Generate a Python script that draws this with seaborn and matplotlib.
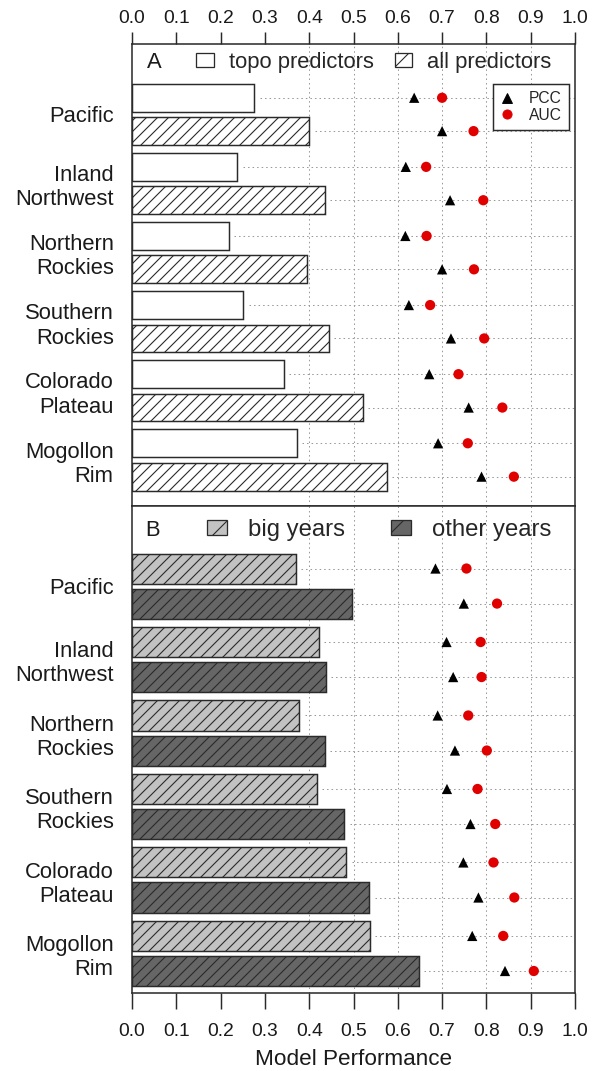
import numpy as np
import pandas as pd
import seaborn as sns
import matplotlib.pyplot as plt
from matplotlib.patches import Patch
from matplotlib.lines import Line2D

# ---- data ----
regions = ["Pacific", "Inland\nNorthwest", "Northern\nRockies",
           "Southern\nRockies", "Colorado\nPlateau", "Mogollon\nRim"]

# panel A
topo_bar = [0.276, 0.238, 0.218, 0.251, 0.343, 0.372]
topo_pcc = [0.637, 0.618, 0.617, 0.625, 0.671, 0.691]
topo_auc = [0.700, 0.664, 0.665, 0.673, 0.737, 0.758]
all_bar = [0.400, 0.436, 0.394, 0.445, 0.521, 0.576]
all_pcc = [0.700, 0.718, 0.700, 0.720, 0.760, 0.789]
all_auc = [0.771, 0.793, 0.772, 0.795, 0.836, 0.862]

# panel B
big_bar = [0.370, 0.421, 0.378, 0.417, 0.484, 0.537]
big_pcc = [0.685, 0.710, 0.690, 0.711, 0.748, 0.768]
big_auc = [0.755, 0.787, 0.759, 0.780, 0.816, 0.838]
other_bar = [0.496, 0.437, 0.436, 0.479, 0.536, 0.647]
other_pcc = [0.749, 0.725, 0.729, 0.764, 0.782, 0.842]
other_auc = [0.824, 0.789, 0.801, 0.820, 0.863, 0.907]

x_ticks = [0.0, 0.1, 0.2, 0.3, 0.4, 0.5, 0.6, 0.7, 0.8, 0.9, 1.0]
grid_x = [0.4, 0.5, 0.6, 0.7, 0.8, 0.9]

sns.set_theme(style="white")
plt.rcParams["font.family"] = ["Liberation Sans", "DejaVu Sans"]
plt.rcParams["hatch.linewidth"] = 1.2

DPI = 66
EDGE = "#2a2a2a"
RED = "#e00000"
DOTS = (0, (1.5, 3))


def long_table(groups, bars, pccs, aucs, width):
    rows = []
    for j, (g, b, p, a) in enumerate(zip(groups, bars, pccs, aucs)):
        off = (j - 0.5) * width / 2
        for i, r in enumerate(regions):
            rows.append(dict(region=r, group=g, bar=b[i], PCC=p[i], AUC=a[i], pos=i + off))
    return pd.DataFrame(rows)


def draw_panel(ax, df, groups, colors, hatches, width, gap, ylim):
    for x in grid_x:
        ax.axvline(x, color="#9a9a9a", lw=1.1, ls=DOTS, zorder=0)
    ax.hlines(df["pos"], df["bar"] + 0.012, 1.0, color="#9a9a9a", lw=1.1,
              linestyles=[DOTS], zorder=0)

    sns.barplot(data=df, y="region", x="bar", hue="group", hue_order=groups,
                order=regions, palette=dict(zip(groups, colors)), orient="h",
                width=width, gap=gap, saturation=1, errorbar=None,
                edgecolor=EDGE, linewidth=1.6, legend=False, ax=ax, zorder=2)
    for cont, h in zip(ax.containers, hatches):
        for p in cont:
            p.set_hatch(h)

    pts = df.melt(id_vars=["pos"], value_vars=["PCC", "AUC"],
                  var_name="metric", value_name="score")
    sns.scatterplot(data=pts, x="score", y="pos", hue="metric", style="metric",
                    markers={"PCC": "^", "AUC": "o"},
                    palette={"PCC": "black", "AUC": RED},
                    s=125, linewidth=0, legend=False, ax=ax, zorder=3)

    ax.set_xlim(0, 1)
    ax.set_ylim(*ylim)
    ax.set_xticks(x_ticks)
    ax.set_xticklabels([f"{v:.1f}" for v in x_ticks])
    ax.set_yticks(range(len(regions)))
    ax.set_yticklabels(regions)
    ax.set_xlabel("")
    ax.set_ylabel("")
    ax.tick_params(axis="y", length=0, pad=20, labelsize=24, colors="#1a1a1a")
    for s in ax.spines.values():
        s.set_color(EDGE)
        s.set_linewidth(1.7)


fig = plt.figure(figsize=(594 / DPI, 1071.05 / DPI))
axA = fig.add_axes([132 / 594, 1 - 506.5 / 1071, 443 / 594, 462.5 / 1071])
axB = fig.add_axes([132 / 594, 1 - 993 / 1071, 443 / 594, 486.5 / 1071])

# ---- panel A ----
groupsA = ["topo predictors", "all predictors"]
dfA = long_table(groupsA, [topo_bar, all_bar], [topo_pcc, all_pcc], [topo_auc, all_auc], 0.966)
draw_panel(axA, dfA, groupsA, ["white", "white"], ["", "//"], 0.966, 0.166, (5.673, -1.02))
axA.tick_params(axis="x", top=True, labeltop=True, bottom=False, labelbottom=False,
                length=13, width=1.6, pad=6, labelsize=21, color=EDGE, labelcolor="#1a1a1a")

legA = axA.legend(handles=[Patch(facecolor="white", edgecolor=EDGE, lw=1.4, label=groupsA[0]),
                           Patch(facecolor="white", edgecolor=EDGE, lw=1.4, hatch="/", label=groupsA[1])],
                  loc="center left", bbox_to_anchor=(0.1445, 0.9596), ncol=2, frameon=False,
                  fontsize=24, handlelength=0.81, handleheight=0.59, handletextpad=0.68,
                  columnspacing=0.95, borderpad=0, borderaxespad=0)
axA.add_artist(legA)
axA.text(0.0497, 0.9596, "A", transform=axA.transAxes, ha="center", va="center",
         fontsize=24, color="#1a1a1a")
axA.legend(handles=[Line2D([], [], marker="^", color="black", ls="", markersize=10, label="PCC"),
                    Line2D([], [], marker="o", color=RED, ls="", markersize=10, label="AUC")],
           loc="upper right", bbox_to_anchor=(0.987, 0.913), fontsize=17, frameon=True,
           fancybox=False, framealpha=1, edgecolor=EDGE, borderpad=0.45, borderaxespad=0,
           handlelength=1.0, handletextpad=0.9, labelspacing=0.1).get_frame().set_linewidth(1.6)

# ---- panel B ----
groupsB = ["big years", "other years"]
dfB = long_table(groupsB, [big_bar, other_bar], [big_pcc, other_pcc], [big_auc, other_auc], 0.954)
draw_panel(axB, dfB, groupsB, ["#c2c2c2", "#666666"], ["//", "//"], 0.954, 0.143, (5.538, -1.083))
axB.tick_params(axis="x", top=False, labeltop=False, bottom=True, labelbottom=True,
                length=17, width=1.6, pad=16, labelsize=21, color=EDGE, labelcolor="#1a1a1a")
axB.set_xlabel("Model Performance", fontsize=24.5, labelpad=9, color="#1a1a1a")

axB.legend(handles=[Patch(facecolor="#c2c2c2", edgecolor=EDGE, lw=1.4, hatch="/", label=groupsB[0]),
                    Patch(facecolor="#666666", edgecolor=EDGE, lw=1.4, hatch="/", label=groupsB[1])],
           loc="center left", bbox_to_anchor=(0.169, 0.9517), ncol=2, frameon=False,
           fontsize=26, handlelength=0.83, handleheight=0.55, handletextpad=0.875,
           columnspacing=1.95, borderpad=0, borderaxespad=0)
axB.text(0.047, 0.9517, "B", transform=axB.transAxes, ha="center", va="center",
         fontsize=24, color="#1a1a1a")

fig.savefig("out.png", dpi=DPI)
